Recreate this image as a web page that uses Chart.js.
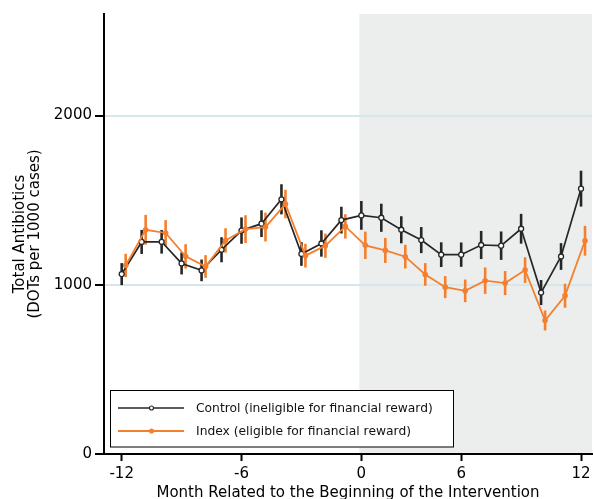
<!DOCTYPE html>
<html><head><meta charset="utf-8">
<script src="https://cdn.jsdelivr.net/npm/chart.js@4"></script>
<style>html,body{margin:0;padding:0;background:#fff}</style>
</head><body>
<canvas id="c" width="594" height="499"></canvas>
<script>
// ---- data ----
const months = [-12,-11,-10,-9,-8,-7,-6,-5,-4,-3,-2,-1,1,2,3,4,5,6,7,8,9,10,11,12];
const control = [1063,1253,1254,1126,1085,1207,1320,1361,1505,1182,1244,1382,1410,1396,1325,1264,1178,1178,1235,1231,1331,954,1167,1568];
const controlErr = [65,71,70,65,64,74,78,79,89,70,78,79,85,83,80,77,73,72,83,84,88,74,79,106];
const indexVals = [1114,1325,1306,1168,1108,1262,1329,1341,1477,1172,1231,1345,1233,1203,1166,1061,986,964,1024,1010,1087,789,935,1260];
const indexErr = [69,88,76,72,67,72,82,85,84,70,72,72,81,74,70,67,65,67,78,71,76,59,71,88];
const xTickMonths = [-12,-6,0,6,12];
const yTickValues = [0,1000,2000];
const seriesLabels = ['Control (ineligible for financial reward)','Index (eligible for financial reward)'];

// month -> position on axis (no month 0 in the data)
const pos = m => (m < 0 ? m : (m === 0 ? 0 : m - 1));
const INDEX_SHIFT = 0.2;
const SHADE_START = -0.1;

const BLACK = '#262626', ORANGE = '#f47f2e';
const FONT = 'DejaVu Sans';

const shadePlugin = {
  id:'shade',
  beforeDraw(chart){
    const {ctx, chartArea:a, scales:{x}} = chart;
    const x0 = x.getPixelForValue(SHADE_START);
    ctx.save();
    ctx.fillStyle = '#eceeed';
    ctx.fillRect(x0, a.top, a.right - x0, a.bottom - a.top);
    ctx.restore();
  }
};

const errPlugin = {
  id:'errbars',
  beforeDatasetsDraw(chart){
    const {ctx, scales:{y}} = chart;
    chart.data.datasets.forEach((ds, di) => {
      const meta = chart.getDatasetMeta(di);
      ctx.save();
      ctx.strokeStyle = ds.borderColor;
      ctx.lineWidth = 2.6;
      meta.data.forEach((pt, i) => {
        const v = ds.data[i].y, e = ds.errors[i];
        ctx.beginPath();
        ctx.moveTo(pt.x, y.getPixelForValue(v - e));
        ctx.lineTo(pt.x, y.getPixelForValue(v + e));
        ctx.stroke();
      });
      ctx.restore();
    });
  }
};

const legendPlugin = {
  id:'boxLegend',
  afterDraw(chart){
    const {ctx, chartArea:a} = chart;
    const L = a.left + 6, B = a.bottom - 7.5, W = 343, H = 56.5;
    const T = B - H;
    ctx.save();
    ctx.fillStyle = '#fff';
    ctx.fillRect(L, T, W, H);
    ctx.strokeStyle = '#000';
    ctx.lineWidth = 1;
    ctx.strokeRect(L + 0.5, T + 0.5, W, H);
    const rows = [T + 18, T + 41];
    chart.data.datasets.forEach((ds, i) => {
      const yy = rows[i];
      ctx.strokeStyle = ds.borderColor;
      ctx.lineWidth = ds.borderWidth;
      ctx.beginPath(); ctx.moveTo(L + 8, yy); ctx.lineTo(L + 74, yy); ctx.stroke();
      ctx.beginPath(); ctx.arc(L + 41.5, yy, 2, 0, Math.PI * 2);
      ctx.fillStyle = ds.pointBackgroundColor;
      ctx.fill();
      ctx.lineWidth = 1.1; ctx.strokeStyle = ds.pointBorderColor; ctx.stroke();
      ctx.fillStyle = '#111';
      ctx.font = '12.3px "' + FONT + '"';
      ctx.textBaseline = 'middle';
      ctx.textAlign = 'left';
      ctx.fillText(ds.label, L + 86, yy + 0.5);
    });
    ctx.restore();
  }
};

new Chart(document.getElementById('c'), {
  type:'line',
  data:{
    datasets:[
      {
        label: seriesLabels[0],
        data: months.map((m, i) => ({x: pos(m), y: control[i]})),
        errors: controlErr,
        borderColor: BLACK, borderWidth: 1.7,
        pointRadius: 2.5, pointBorderWidth: 1.3,
        pointBackgroundColor: '#ffffff', pointBorderColor: BLACK,
        order: 1, tension: 0
      },
      {
        label: seriesLabels[1],
        data: months.map((m, i) => ({x: pos(m) + INDEX_SHIFT, y: indexVals[i]})),
        errors: indexErr,
        borderColor: ORANGE, borderWidth: 1.8,
        pointRadius: 2.8, pointBorderWidth: 0,
        pointBackgroundColor: ORANGE, pointBorderColor: ORANGE,
        order: 0, tension: 0
      }
    ]
  },
  options:{
    responsive:false, animation:false,
    layout:{autoPadding:false, padding:{top:14, right:2, left:0, bottom:0}},
    plugins:{legend:{display:false}, tooltip:{enabled:false}},
    scales:{
      x:{
        type:'linear', min:-12.886, max:11.55,
        afterFit(s){ s.height = 45; s.paddingLeft = 0; s.paddingRight = 0; },
        afterBuildTicks(s){ s.ticks = xTickMonths.map(m => ({value: pos(m), label: String(m)})); },
        ticks:{
          autoSkip:false, maxRotation:0, padding:4, color:'#000',
          font:{family:FONT, size:15},
          callback(v, i){ return String(xTickMonths[i]); }
        },
        grid:{drawOnChartArea:false, drawTicks:true, tickLength:7, tickColor:'#000', tickWidth:2},
        border:{display:true, color:'#000', width:2},
        title:{display:true, text:'Month Related to the Beginning of the Intervention',
          color:'#000', font:{family:FONT, size:15, lineHeight:1}, padding:{top:0, bottom:-1.5}}
      },
      y:{
        type:'linear', min:0, max:2600,
        afterFit(s){ s.width = 104; s.paddingTop = 0; s.paddingBottom = 0; },
        afterBuildTicks(s){ s.ticks = yTickValues.map(v => ({value:v})); },
        ticks:{color:'#000', padding:3, font:{family:FONT, size:15}, callback:v => String(v)},
        grid:{
          drawOnChartArea:true, drawTicks:true, tickLength:9, tickColor:'#000', tickWidth:2,
          lineWidth:2,
          color:c => (c.tick && c.tick.value > 0 ? '#d6e7ea' : 'rgba(0,0,0,0)')
        },
        border:{display:true, color:'#000', width:2},
        title:{display:true, text:['Total Antibiotics','(DOTs per 1000 cases)'],
          color:'#000', font:{family:FONT, size:15, lineHeight:0.97}, padding:{top:13, bottom:0}}
      }
    }
  },
  plugins:[shadePlugin, errPlugin, legendPlugin]
});
</script>
</body></html>
